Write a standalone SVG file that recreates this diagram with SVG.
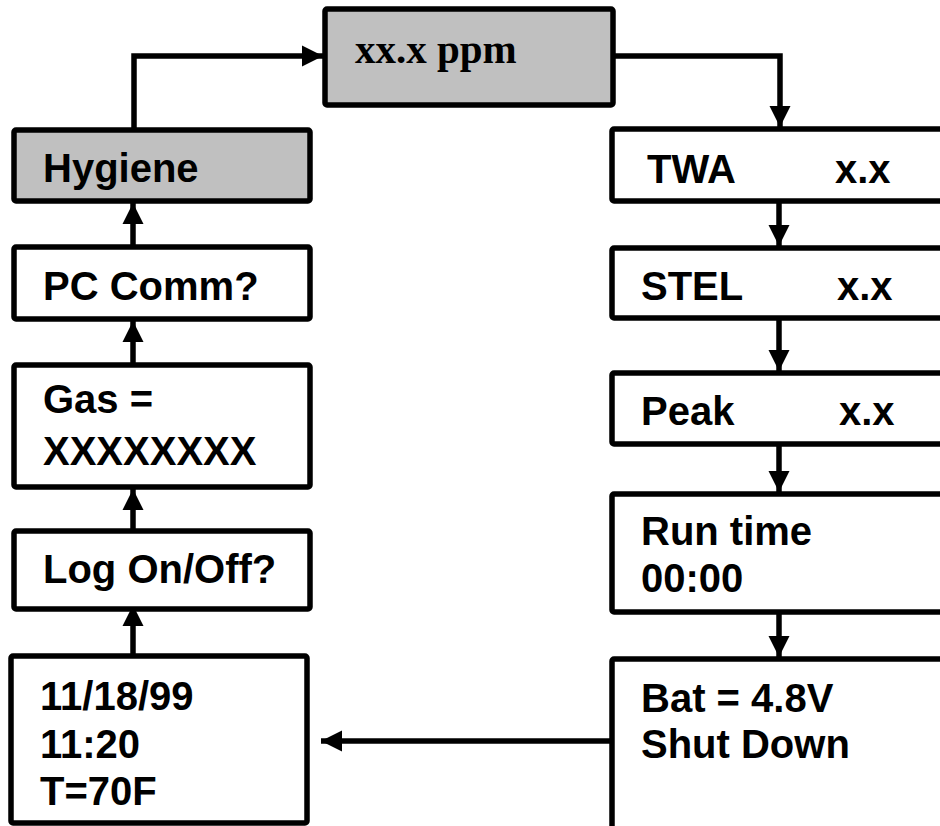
<svg xmlns="http://www.w3.org/2000/svg" width="940" height="826" viewBox="0 0 940 826">
<defs>
<marker id="ah" markerUnits="userSpaceOnUse" markerWidth="21" markerHeight="24" refX="21" refY="12" orient="auto">
<path d="M0,1.5 L21,12 L0,22.5 z" fill="#000"/>
</marker>
<style>
.box{fill:#fff;stroke:#000;stroke-width:5.5}
.gray{fill:#c0c0c0}
.t{font-family:"Liberation Sans",Arial,sans-serif;font-weight:bold;font-size:40px;fill:#000}
.tt{font-family:"Liberation Serif","Times New Roman",serif;font-weight:bold;font-size:41px;fill:#000}
.c{fill:none;stroke:#000;stroke-width:5.5;marker-end:url(#ah)}
</style>
</defs>
<rect width="940" height="826" fill="#fff"/>
<g id="connectors">
<path class="c" d="M134,130 V56 H323"/>
<path class="c" d="M614,56 H780 V127"/>
<path class="c" d="M779,203 V246"/>
<path class="c" d="M779,320 V371"/>
<path class="c" d="M779,446 V492"/>
<path class="c" d="M779,614 V657"/>
<path class="c" d="M612,741 H321"/>
<path class="c" d="M133,655 V605"/>
<path class="c" d="M133,529 V489"/>
<path class="c" d="M133,363 V321"/>
<path class="c" d="M133,245 V203"/>
</g>
<g id="ppm">
<rect class="box gray" x="325" y="9" width="288" height="96" rx="2"/>
<text class="tt" x="355" y="63">xx.x ppm</text>
</g>
<g id="hygiene">
<rect class="box gray" x="14" y="130" width="296" height="71" rx="2"/>
<text class="t" x="43" y="182">Hygiene</text>
</g>
<g id="pccomm">
<rect class="box" x="14" y="247" width="296" height="72" rx="2"/>
<text class="t" x="43" y="300">PC Comm?</text>
</g>
<g id="gas">
<rect class="box" x="14" y="365" width="296" height="122" rx="2"/>
<text class="t" x="43" y="413">Gas =</text>
<text class="t" x="43" y="465">XXXXXXXX</text>
</g>
<g id="log">
<rect class="box" x="14" y="531" width="296" height="78" rx="2"/>
<text class="t" x="43" y="583">Log On/Off?</text>
</g>
<g id="date">
<rect class="box" x="11" y="656" width="296" height="167" rx="2"/>
<text class="t" x="40" y="710">11/18/99</text>
<text class="t" x="40" y="758">11:20</text>
<text class="t" x="40" y="805">T=70F</text>
</g>
<g id="twa">
<rect class="box" x="612" y="129" width="360" height="72" rx="2"/>
<text class="t" x="647" y="183">TWA</text>
<text class="t" x="835" y="183">x.x</text>
</g>
<g id="stel">
<rect class="box" x="612" y="248" width="360" height="70" rx="2"/>
<text class="t" x="641" y="300">STEL</text>
<text class="t" x="837" y="300">x.x</text>
</g>
<g id="peak">
<rect class="box" x="612" y="373" width="360" height="71" rx="2"/>
<text class="t" x="641" y="425">Peak</text>
<text class="t" x="839" y="425">x.x</text>
</g>
<g id="runtime">
<rect class="box" x="612" y="494" width="360" height="118" rx="2"/>
<text class="t" x="641" y="545">Run time</text>
<text class="t" x="641" y="592">00:00</text>
</g>
<g id="battery">
<rect class="box" x="612" y="659" width="360" height="200" rx="2"/>
<text class="t" x="641" y="712">Bat = 4.8V</text>
<text class="t" x="641" y="758">Shut Down</text>
</g>
</svg>
